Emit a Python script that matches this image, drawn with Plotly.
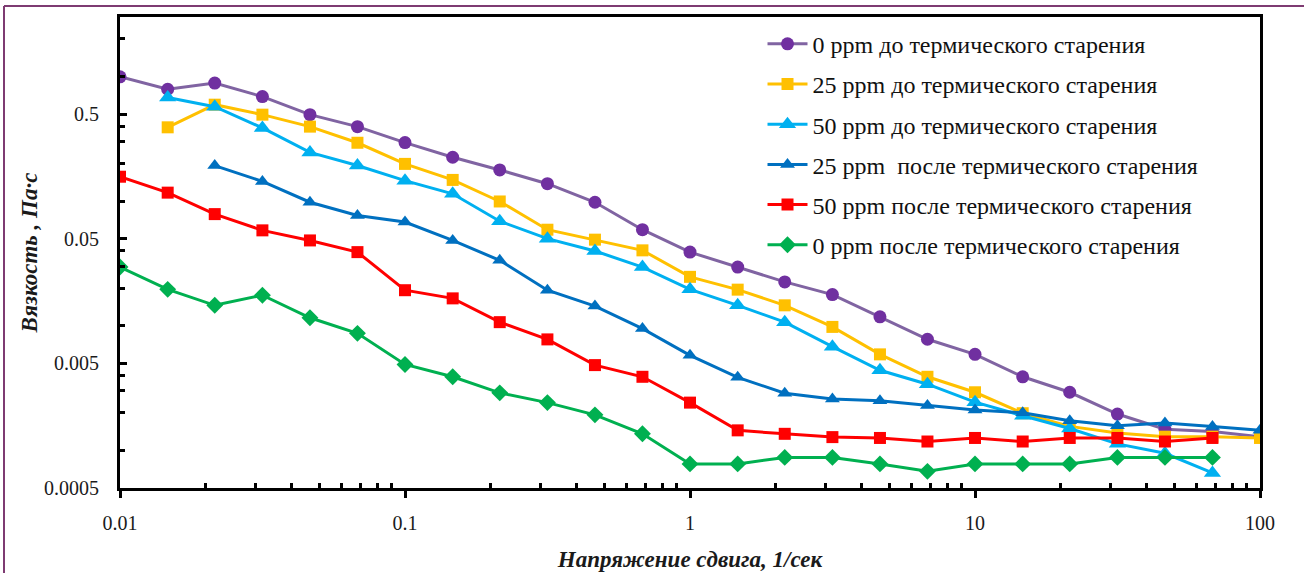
import plotly.graph_objects as go
import math

# Shear rate, 1/s
shear_rate = [0.01, 0.0147, 0.0215, 0.0316, 0.0464, 0.0681, 0.1, 0.147, 0.215, 0.316,
              0.464, 0.681, 1.0, 1.47, 2.15, 3.16, 4.64, 6.81, 10.0, 14.7, 21.5, 31.6,
              46.4, 68.1, 100.0]

visc_0_before = [0.994, 0.79, 0.885, 0.69, 0.494, 0.396, 0.295, 0.225, 0.178, 0.138,
                 0.098, 0.059, 0.039, 0.0296, 0.0225, 0.0178, 0.0118, 0.0078, 0.0059,
                 0.0039, 0.00293, 0.00196, 0.00148, 0.00142, 0.00129]
visc_25_before = [None, 0.391, 0.594, 0.494, 0.396, 0.294, 0.199, 0.148, 0.0994, 0.059,
                  0.0491, 0.0403, 0.0247, 0.0195, 0.0146, 0.0098, 0.0059, 0.0039, 0.00293,
                  0.00199, 0.00156, 0.00138, 0.00129, 0.00129, 0.00126]
visc_50_before = [None, 0.679, 0.572, 0.387, 0.246, 0.193, 0.146, 0.1146, 0.069, 0.05,
                  0.0398, 0.0296, 0.0196, 0.0146, 0.0107, 0.0068, 0.0044, 0.0034, 0.00244,
                  0.0019, 0.0015, 0.00113, 0.00095, 0.00066, None]
visc_25_after = [None, None, 0.193, 0.144, 0.098, 0.0768, 0.068, 0.0484, 0.0335, 0.0193,
                 0.0144, 0.0095, 0.0058, 0.00386, 0.00288, 0.00259, 0.0025, 0.00229,
                 0.00211, 0.00201, 0.00173, 0.00158, 0.00166, 0.00156, 0.00145]
visc_50_after = [0.157, 0.117, 0.0787, 0.0583, 0.0484, 0.039, 0.0193, 0.0166, 0.0107,
                 0.00778, 0.00484, 0.0039, 0.00242, 0.00145, 0.00136, 0.00128, 0.00126,
                 0.00118, 0.00126, 0.00118, 0.00126, 0.00126, 0.00118, 0.00126, None]
visc_0_after = [0.0296, 0.0196, 0.0146, 0.0176, 0.0116, 0.0087, 0.0049, 0.0039, 0.0029,
                0.00242, 0.00193, 0.00136, 0.00078, 0.00078, 0.00088, 0.00088, 0.00078,
                0.00068, 0.00078, 0.00078, 0.00078, 0.00088, 0.00088, 0.00088, None]

series_names = ["0 ppm до термического старения",
                "25 ppm до термического старения",
                "50 ppm до термического старения",
                "25 ppm\u00a0 после термического старения",
                "50 ppm после термического старения",
                "0 ppm после термического старения"]

x_tick_vals = [0.01, 0.1, 1, 10, 100]
x_tick_text = ["0.01", "0.1", "1", "10", "100"]
y_tick_vals = [0.0005, 0.005, 0.05, 0.5]
y_tick_text = ["0.0005", "0.005", "0.05", "0.5"]

series = [visc_0_before, visc_25_before, visc_50_before,
          visc_25_after, visc_50_after, visc_0_after]
line_colors = ["#8064A2", "#FFC000", "#00B0F0", "#0070C0", "#FF0000", "#00B050"]
marker_colors = ["#7030A0", "#FFC000", "#00B0F0", "#0070C0", "#FF0000", "#00B050"]
symbols = ["circle", "square", "triangle-up", "triangle-up", "square", "diamond"]
msizes = [13, 12, 15, 13, 12, 13]

FONT = "Liberation Serif"

fig = go.Figure()
for i, ys in enumerate(series):
    fig.add_trace(go.Scatter(
        x=shear_rate, y=ys, name=series_names[i], mode="lines+markers",
        legendgroup=str(i),
        line=dict(color=line_colors[i], width=3),
        marker=dict(color=marker_colors[i], symbol=symbols[i], size=msizes[i],
                    line=dict(width=0)),
        connectgaps=False,
    ))

x_minor = [k * 10 ** n for n in range(-2, 2) for k in range(2, 10)]
y_minor = [k * 10 ** n for n in range(-3, 1) for k in range(1, 5)]
y_minor = [v for v in y_minor if v <= 3.0]

fig.update_layout(
    width=1304, height=573,
    margin=dict(l=120, r=44, t=17, b=85, autoexpand=False),
    paper_bgcolor="white", plot_bgcolor="white",
    font=dict(family=FONT, color="#1a1a1a"),
    showlegend=True,
    legend=dict(x=0.5636, y=0.99, xanchor="left", yanchor="top",
                font=dict(family=FONT, size=24, color="#111"),
                bgcolor="rgba(0,0,0,0)", tracegroupgap=6,
                itemwidth=40),
    xaxis=dict(
        type="log", range=[-2, 2],
        tickmode="array", tickvals=x_tick_vals, ticktext=x_tick_text,
        ticks="outside", ticklen=7, tickwidth=3, tickcolor="black",
        showline=True, linewidth=3, linecolor="black", mirror=True,
        showgrid=False, zeroline=False,
        tickfont=dict(family=FONT, size=20, color="#1a1a1a"),
        ticklabelstandoff=8,
        minor=dict(tickmode="array", tickvals=x_minor, ticks="inside",
                   ticklen=5, tickwidth=3, tickcolor="black", showgrid=False),
        title=dict(text="<b><i>Напряжение сдвига, 1/сек</i></b>",
                   font=dict(family=FONT, size=23, color="#1a1a1a"), standoff=18),
    ),
    yaxis=dict(
        type="log", range=[math.log10(0.0005), math.log10(3.0)],
        tickmode="array", tickvals=y_tick_vals, ticktext=y_tick_text,
        ticks="inside", ticklen=7, tickwidth=3, tickcolor="black",
        showline=True, linewidth=3, linecolor="black", mirror=True,
        showgrid=False, zeroline=False,
        tickfont=dict(family=FONT, size=20, color="#1a1a1a"),
        ticklabelstandoff=14,
        minor=dict(tickmode="array", tickvals=y_minor, ticks="inside",
                   ticklen=5, tickwidth=3, tickcolor="black", showgrid=False),
        title=dict(text="<b><i>Вязкость , Па·с</i></b>",
                   font=dict(family=FONT, size=23, color="#1a1a1a"), standoff=0),
    ),
)

# outer purple frame (left and top edges visible)
border = "#7E3B72"
fig.add_shape(type="line", xref="paper", yref="paper",
              x0=(4 - 120) / 1140, x1=(4 - 120) / 1140,
              y0=1 + (17 - 6) / 471, y1=-(90) / 471,
              line=dict(color=border, width=2))
fig.add_shape(type="line", xref="paper", yref="paper",
              x0=(4 - 120) / 1140, x1=(1310 - 120) / 1140,
              y0=1 + (17 - 6) / 471, y1=1 + (17 - 6) / 471,
              line=dict(color=border, width=2))

fig.write_html("out.html")
